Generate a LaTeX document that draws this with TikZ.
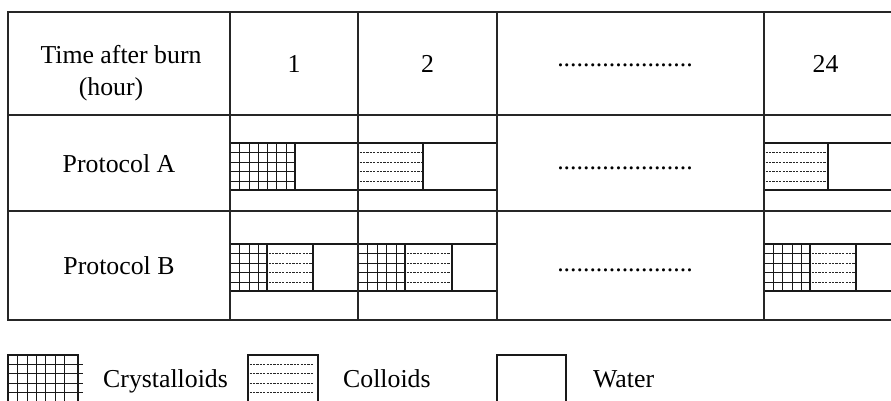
\documentclass[tikz,border=0pt]{standalone}
\usepackage{fontspec}
\setmainfont{Liberation Serif}

% crystalloid grid inside a bar segment: x1, x2, columns, ytop, ybot
% (line positions snapped to whole points so all grid lines look alike)
\newcommand\crysgrid[5]{%
  \pgfmathtruncatemacro\lastcol{#3-1}%
  \foreach \k in {1,...,\lastcol}{\draw[gridline] ({round(#1+\k*(#2-#1)/#3)+0.5},#4) -- ({round(#1+\k*(#2-#1)/#3)+0.5},#5);}%
  \foreach \k in {1,...,4}{\draw[gridline] (#1,{round(#4+\k*(#5-#4)/5)+0.5}) -- (#2,{round(#4+\k*(#5-#4)/5)+0.5});}%
}
% colloid hatching inside a bar segment: x1, x2, ytop, ybot
\newcommand\colldash[4]{%
  \foreach \k in {1,...,4}{\draw[dashline] ({#1+1.5},{round(#3+\k*(#4-#3)/5)+0.5}) -- ({#2-1.5},{round(#3+\k*(#4-#3)/5)+0.5});}%
}

\begin{document}
\begin{tikzpicture}[x=1pt,y=-1pt,
  rule/.style={line width=1.8pt, draw=black!85},
  barline/.style={line width=1.5pt, draw=black!90},
  gridline/.style={line width=1.3pt, draw=black!90},
  dashline/.style={line width=1.1pt, draw=black!85, dash pattern=on 2.2pt off 1.2pt},
  lbl/.style={inner sep=0pt, font=\fontsize{25.8pt}{32pt}\selectfont},
]
\useasboundingbox (0,0) rectangle (891,400);
\clip (0,0) rectangle (891,400);

% ---- bars: Protocol A ----
\crysgrid{230}{295}{7}{143}{190}
\colldash{358}{423}{143}{190}
\colldash{764}{828}{143}{190}
\draw[barline] (230,143) rectangle (497,190);
\draw[barline] (295,143) -- (295,190);
\draw[barline] (423,143) -- (423,190);
\draw[barline] (764,143) rectangle (910,190);
\draw[barline] (828,143) -- (828,190);

% ---- bars: Protocol B ----
\crysgrid{230}{267}{4}{244}{291}
\colldash{267}{313}{244}{291}
\crysgrid{358}{405}{5}{244}{291}
\colldash{405}{452}{244}{291}
\crysgrid{764}{810}{5}{244}{291}
\colldash{810}{856}{244}{291}
\draw[barline] (230,244) rectangle (497,291);
\foreach \x in {267,313,405,452}{\draw[barline] (\x,244) -- (\x,291);}
\draw[barline] (764,244) rectangle (910,291);
\foreach \x in {810,856}{\draw[barline] (\x,244) -- (\x,291);}

% ---- table rules ----
\draw[rule] (910,12) -| (8,320) -- (910,320);
\foreach \y in {115,211}{\draw[rule] (8,\y) -- (910,\y);}
\foreach \x in {230,358,497,764}{\draw[rule] (\x,12) -- (\x,320);}

% ---- table text ----
\node[lbl,anchor=base] (hdrA) at (121,63) {Time after burn};
\node[lbl,anchor=base] (hdrB) at (111,95) {(hour)};
\node[lbl,anchor=base] (h1) at (294,72.5) {1};
\node[lbl,anchor=base] (h2) at (427.5,72.5) {2};
\node[lbl,anchor=base] (hdots) at (625,66) {.....................};
\node[lbl,anchor=base] (h24) at (825.5,72.5) {24};
\node[lbl,anchor=base] (pa) at (119,172.5) {Protocol A};
\node[lbl,anchor=base] (padots) at (625,169) {.....................};
\node[lbl,anchor=base] (pb) at (119,274) {Protocol B};
\node[lbl,anchor=base] (pbdots) at (625,271) {.....................};

% ---- legend ----
\foreach \k in {1,...,6}{\draw[gridline] ({round(8+\k*9.3)+0.5},355) -- ({round(8+\k*9.3)+0.5},420);}
\foreach \k in {1,...,4}{\draw[gridline] (8,{round(355+\k*9.2)+0.5}) -- (83,{round(355+\k*9.2)+0.5});}
\draw[barline] (8,355) rectangle (78,420);
\foreach \k in {1,...,4}{\draw[dashline] (249.5,{round(355+\k*9.2)+0.5}) -- (314,{round(355+\k*9.2)+0.5});}
\draw[barline] (248,355) rectangle (318,420);
\draw[barline] (497,355) rectangle (566,420);

\node[lbl,anchor=base west] (lcrys) at (103,387) {Crystalloids};
\node[lbl,anchor=base west] (lcoll) at (343,387) {Colloids};
\node[lbl,anchor=base west] (lwat) at (593,387) {Water};
\end{tikzpicture}
\end{document}
